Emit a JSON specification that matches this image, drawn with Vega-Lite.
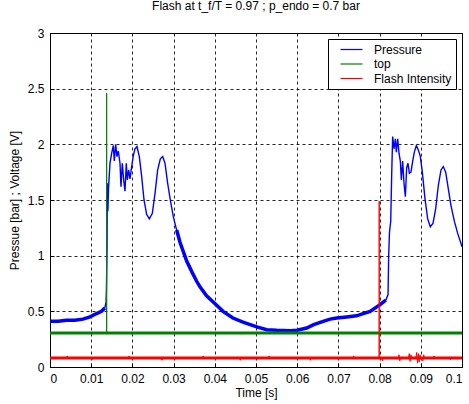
{
  "$schema": "https://vega.github.io/schema/vega-lite/v6.json",
  "width": 412,
  "height": 334,
  "autosize": {"type": "none"},
  "padding": {"left": 50, "top": 33, "right": 7, "bottom": 37},
  "background": "white",
  "title": {"text": "Flash at t_f/T = 0.97 ; p_endo = 0.7 bar", "font": "Liberation Sans", "fontSize": 12, "fontWeight": "normal", "color": "#000", "offset": 14, "anchor": "middle"},
  "config": {
    "view": {"stroke": "#000", "strokeWidth": 1},
    "axis": {
      "domainColor": "#000", "domainWidth": 1,
      "tickColor": "#000", "tickSize": -4, "labelPadding": 10,
      "grid": true, "gridColor": "#000", "gridDash": [3, 3], "gridWidth": 1, "gridOpacity": 0.85,
      "labelFont": "Liberation Sans", "labelFontSize": 12, "labelColor": "#000",
      "titleFont": "Liberation Sans", "titleFontSize": 12, "titleFontWeight": "normal", "titleColor": "#000"
    },
    "legend": {
      "orient": "top-right", "offset": 6, "strokeColor": "#000", "fillColor": "#fff", "padding": 4,
      "labelFont": "Liberation Sans", "labelFontSize": 12, "labelColor": "#000",
      "symbolType": "M-2,0H2", "symbolSize": 121, "symbolStrokeWidth": 1.2, "symbolOffset": 13,
      "rowPadding": 1.5, "labelOffset": 16, "cornerRadius": 0
    }
  },
  "data": {"values": [
    {"series": "Pressure", "t": 0.000, "v": 0.41},
    {"series": "Pressure", "t": 0.002, "v": 0.41},
    {"series": "Pressure", "t": 0.004, "v": 0.42},
    {"series": "Pressure", "t": 0.006, "v": 0.42},
    {"series": "Pressure", "t": 0.008, "v": 0.43},
    {"series": "Pressure", "t": 0.0097, "v": 0.45},
    {"series": "Pressure", "t": 0.0113, "v": 0.48},
    {"series": "Pressure", "t": 0.0125, "v": 0.50},
    {"series": "Pressure", "t": 0.0133, "v": 0.53},
    {"series": "Pressure", "t": 0.0136, "v": 0.58},
    {"series": "Pressure", "t": 0.0137, "v": 0.70},
    {"series": "Pressure", "t": 0.01385, "v": 1.10},
    {"series": "Pressure", "t": 0.0139, "v": 1.65},
    {"series": "Pressure", "t": 0.01405, "v": 1.40},
    {"series": "Pressure", "t": 0.0142, "v": 1.60},
    {"series": "Pressure", "t": 0.01456, "v": 1.83},
    {"series": "Pressure", "t": 0.01497, "v": 1.92},
    {"series": "Pressure", "t": 0.01537, "v": 1.99},
    {"series": "Pressure", "t": 0.01561, "v": 1.85},
    {"series": "Pressure", "t": 0.01594, "v": 2.00},
    {"series": "Pressure", "t": 0.01626, "v": 1.89},
    {"series": "Pressure", "t": 0.01658, "v": 1.94},
    {"series": "Pressure", "t": 0.01699, "v": 1.83},
    {"series": "Pressure", "t": 0.01723, "v": 1.62},
    {"series": "Pressure", "t": 0.01755, "v": 1.83},
    {"series": "Pressure", "t": 0.01788, "v": 1.68},
    {"series": "Pressure", "t": 0.0182, "v": 1.58},
    {"series": "Pressure", "t": 0.01852, "v": 1.83},
    {"series": "Pressure", "t": 0.01877, "v": 1.68},
    {"series": "Pressure", "t": 0.0191, "v": 1.77},
    {"series": "Pressure", "t": 0.01942, "v": 1.69},
    {"series": "Pressure", "t": 0.01982, "v": 1.80},
    {"series": "Pressure", "t": 0.02023, "v": 1.90},
    {"series": "Pressure", "t": 0.02063, "v": 1.96},
    {"series": "Pressure", "t": 0.02112, "v": 1.98},
    {"series": "Pressure", "t": 0.02168, "v": 1.89},
    {"series": "Pressure", "t": 0.02225, "v": 1.71},
    {"series": "Pressure", "t": 0.02282, "v": 1.50},
    {"series": "Pressure", "t": 0.02346, "v": 1.37},
    {"series": "Pressure", "t": 0.02411, "v": 1.33},
    {"series": "Pressure", "t": 0.02484, "v": 1.38},
    {"series": "Pressure", "t": 0.02549, "v": 1.56},
    {"series": "Pressure", "t": 0.02613, "v": 1.77},
    {"series": "Pressure", "t": 0.02678, "v": 1.87},
    {"series": "Pressure", "t": 0.02735, "v": 1.89},
    {"series": "Pressure", "t": 0.02791, "v": 1.83},
    {"series": "Pressure", "t": 0.02856, "v": 1.65},
    {"series": "Pressure", "t": 0.0292, "v": 1.50},
    {"series": "Pressure", "t": 0.02993, "v": 1.35},
    {"series": "Pressure", "t": 0.03074, "v": 1.23},
    {"series": "Pressure", "t": 0.03155, "v": 1.12},
    {"series": "Pressure", "t": 0.0332, "v": 0.95},
    {"series": "Pressure", "t": 0.0345, "v": 0.85},
    {"series": "Pressure", "t": 0.0356, "v": 0.77},
    {"series": "Pressure", "t": 0.0364, "v": 0.72},
    {"series": "Pressure", "t": 0.038, "v": 0.64},
    {"series": "Pressure", "t": 0.040, "v": 0.57},
    {"series": "Pressure", "t": 0.042, "v": 0.50},
    {"series": "Pressure", "t": 0.0444, "v": 0.44},
    {"series": "Pressure", "t": 0.047, "v": 0.40},
    {"series": "Pressure", "t": 0.0502, "v": 0.36},
    {"series": "Pressure", "t": 0.0526, "v": 0.335},
    {"series": "Pressure", "t": 0.055, "v": 0.33},
    {"series": "Pressure", "t": 0.0583, "v": 0.326},
    {"series": "Pressure", "t": 0.060, "v": 0.33},
    {"series": "Pressure", "t": 0.0623, "v": 0.35},
    {"series": "Pressure", "t": 0.064, "v": 0.38},
    {"series": "Pressure", "t": 0.0663, "v": 0.41},
    {"series": "Pressure", "t": 0.068, "v": 0.43},
    {"series": "Pressure", "t": 0.0696, "v": 0.44},
    {"series": "Pressure", "t": 0.072, "v": 0.45},
    {"series": "Pressure", "t": 0.0744, "v": 0.46},
    {"series": "Pressure", "t": 0.076, "v": 0.48},
    {"series": "Pressure", "t": 0.0777, "v": 0.50},
    {"series": "Pressure", "t": 0.0801, "v": 0.56},
    {"series": "Pressure", "t": 0.0815, "v": 0.60},
    {"series": "Pressure", "t": 0.08205, "v": 0.65},
    {"series": "Pressure", "t": 0.0822, "v": 1.00},
    {"series": "Pressure", "t": 0.0824, "v": 1.21},
    {"series": "Pressure", "t": 0.0827, "v": 1.31},
    {"series": "Pressure", "t": 0.08293, "v": 1.72},
    {"series": "Pressure", "t": 0.08317, "v": 2.07},
    {"series": "Pressure", "t": 0.0835, "v": 1.96},
    {"series": "Pressure", "t": 0.08382, "v": 2.05},
    {"series": "Pressure", "t": 0.08406, "v": 1.93},
    {"series": "Pressure", "t": 0.08439, "v": 2.05},
    {"series": "Pressure", "t": 0.08471, "v": 1.92},
    {"series": "Pressure", "t": 0.08503, "v": 1.85},
    {"series": "Pressure", "t": 0.08528, "v": 1.68},
    {"series": "Pressure", "t": 0.0856, "v": 1.85},
    {"series": "Pressure", "t": 0.08592, "v": 1.65},
    {"series": "Pressure", "t": 0.08625, "v": 1.53},
    {"series": "Pressure", "t": 0.08657, "v": 1.79},
    {"series": "Pressure", "t": 0.08689, "v": 1.83},
    {"series": "Pressure", "t": 0.08722, "v": 1.74},
    {"series": "Pressure", "t": 0.08762, "v": 1.75},
    {"series": "Pressure", "t": 0.08803, "v": 1.85},
    {"series": "Pressure", "t": 0.08843, "v": 1.93},
    {"series": "Pressure", "t": 0.08892, "v": 1.99},
    {"series": "Pressure", "t": 0.0894, "v": 1.95},
    {"series": "Pressure", "t": 0.08989, "v": 1.89},
    {"series": "Pressure", "t": 0.09037, "v": 1.75},
    {"series": "Pressure", "t": 0.09102, "v": 1.51},
    {"series": "Pressure", "t": 0.09167, "v": 1.33},
    {"series": "Pressure", "t": 0.09231, "v": 1.26},
    {"series": "Pressure", "t": 0.09296, "v": 1.29},
    {"series": "Pressure", "t": 0.09361, "v": 1.42},
    {"series": "Pressure", "t": 0.09425, "v": 1.63},
    {"series": "Pressure", "t": 0.0949, "v": 1.77},
    {"series": "Pressure", "t": 0.09547, "v": 1.80},
    {"series": "Pressure", "t": 0.09604, "v": 1.75},
    {"series": "Pressure", "t": 0.09668, "v": 1.60},
    {"series": "Pressure", "t": 0.09733, "v": 1.45},
    {"series": "Pressure", "t": 0.09814, "v": 1.31},
    {"series": "Pressure", "t": 0.09895, "v": 1.20},
    {"series": "Pressure", "t": 0.09976, "v": 1.11},
    {"series": "Pressure", "t": 0.1, "v": 1.08},
    {"series": "top", "t": 0.0, "v": 0.305},
    {"series": "top", "t": 0.01373, "v": 0.305},
    {"series": "top", "t": 0.01375, "v": 2.46},
    {"series": "top", "t": 0.01377, "v": 0.305},
    {"series": "top", "t": 0.1, "v": 0.305},
    {"series": "Flash Intensity", "t": 0.0, "v": 0.08},
    {"series": "Flash Intensity", "t": 0.004, "v": 0.08},
    {"series": "Flash Intensity", "t": 0.0042, "v": 0.10},
    {"series": "Flash Intensity", "t": 0.0044, "v": 0.08},
    {"series": "Flash Intensity", "t": 0.010, "v": 0.08},
    {"series": "Flash Intensity", "t": 0.0102, "v": 0.065},
    {"series": "Flash Intensity", "t": 0.0104, "v": 0.08},
    {"series": "Flash Intensity", "t": 0.019, "v": 0.08},
    {"series": "Flash Intensity", "t": 0.0192, "v": 0.10},
    {"series": "Flash Intensity", "t": 0.0194, "v": 0.08},
    {"series": "Flash Intensity", "t": 0.027, "v": 0.08},
    {"series": "Flash Intensity", "t": 0.0272, "v": 0.06},
    {"series": "Flash Intensity", "t": 0.0274, "v": 0.08},
    {"series": "Flash Intensity", "t": 0.037, "v": 0.08},
    {"series": "Flash Intensity", "t": 0.0372, "v": 0.10},
    {"series": "Flash Intensity", "t": 0.0374, "v": 0.08},
    {"series": "Flash Intensity", "t": 0.046, "v": 0.08},
    {"series": "Flash Intensity", "t": 0.0462, "v": 0.06},
    {"series": "Flash Intensity", "t": 0.0464, "v": 0.08},
    {"series": "Flash Intensity", "t": 0.053, "v": 0.08},
    {"series": "Flash Intensity", "t": 0.0532, "v": 0.10},
    {"series": "Flash Intensity", "t": 0.0534, "v": 0.08},
    {"series": "Flash Intensity", "t": 0.063, "v": 0.08},
    {"series": "Flash Intensity", "t": 0.0632, "v": 0.06},
    {"series": "Flash Intensity", "t": 0.0634, "v": 0.08},
    {"series": "Flash Intensity", "t": 0.0735, "v": 0.08},
    {"series": "Flash Intensity", "t": 0.0737, "v": 0.10},
    {"series": "Flash Intensity", "t": 0.0739, "v": 0.08},
    {"series": "Flash Intensity", "t": 0.07988, "v": 0.08},
    {"series": "Flash Intensity", "t": 0.0799, "v": 1.49},
    {"series": "Flash Intensity", "t": 0.07992, "v": 0.08},
    {"series": "Flash Intensity", "t": 0.0805, "v": 0.08},
    {"series": "Flash Intensity", "t": 0.0807, "v": 0.055},
    {"series": "Flash Intensity", "t": 0.0809, "v": 0.08},
    {"series": "Flash Intensity", "t": 0.0845, "v": 0.08},
    {"series": "Flash Intensity", "t": 0.0847, "v": 0.11},
    {"series": "Flash Intensity", "t": 0.0849, "v": 0.055},
    {"series": "Flash Intensity", "t": 0.0851, "v": 0.08},
    {"series": "Flash Intensity", "t": 0.087, "v": 0.08},
    {"series": "Flash Intensity", "t": 0.0872, "v": 0.12},
    {"series": "Flash Intensity", "t": 0.0874, "v": 0.05},
    {"series": "Flash Intensity", "t": 0.0876, "v": 0.11},
    {"series": "Flash Intensity", "t": 0.0878, "v": 0.08},
    {"series": "Flash Intensity", "t": 0.0888, "v": 0.08},
    {"series": "Flash Intensity", "t": 0.089, "v": 0.13},
    {"series": "Flash Intensity", "t": 0.0892, "v": 0.035},
    {"series": "Flash Intensity", "t": 0.0894, "v": 0.12},
    {"series": "Flash Intensity", "t": 0.0896, "v": 0.045},
    {"series": "Flash Intensity", "t": 0.0898, "v": 0.11},
    {"series": "Flash Intensity", "t": 0.090, "v": 0.08},
    {"series": "Flash Intensity", "t": 0.0905, "v": 0.055},
    {"series": "Flash Intensity", "t": 0.0907, "v": 0.11},
    {"series": "Flash Intensity", "t": 0.0909, "v": 0.08},
    {"series": "Flash Intensity", "t": 0.093, "v": 0.08},
    {"series": "Flash Intensity", "t": 0.0932, "v": 0.10},
    {"series": "Flash Intensity", "t": 0.0934, "v": 0.08},
    {"series": "Flash Intensity", "t": 0.097, "v": 0.08},
    {"series": "Flash Intensity", "t": 0.0972, "v": 0.065},
    {"series": "Flash Intensity", "t": 0.0974, "v": 0.08},
    {"series": "Flash Intensity", "t": 0.1, "v": 0.08}
  ]},
  "encoding": {
    "x": {"field": "t", "type": "quantitative", "scale": {"domain": [0, 0.1], "nice": false, "zero": false},
          "axis": {"values": [0, 0.01, 0.02, 0.03, 0.04, 0.05, 0.06, 0.07, 0.08, 0.09, 0.1], "format": "~g", "title": "Time [s]", "titlePadding": 3}},
    "y": {"field": "v", "type": "quantitative", "scale": {"domain": [0, 3], "nice": false},
          "axis": {"values": [0, 0.5, 1, 1.5, 2, 2.5, 3], "format": "~g", "title": "Pressue [bar] ; Voltage [V]", "titlePadding": 6}},
    "color": {"field": "series", "type": "nominal", "title": null,
              "scale": {"domain": ["Pressure", "top", "Flash Intensity"], "range": ["#0000ff", "#008000", "#ff0000"]}},
    "order": {"field": "t", "type": "quantitative"}
  },
  "layer": [
    {"transform": [{"filter": "datum.series == 'Pressure'"}], "mark": {"type": "line", "strokeWidth": 1.4, "interpolate": "linear"}},
    {"transform": [{"filter": "datum.series == 'Pressure' && datum.t <= 0.0134"}], "mark": {"type": "line", "strokeWidth": 3.5}},
    {"transform": [{"filter": "datum.series == 'Pressure' && datum.t >= 0.0303 && datum.t <= 0.0816"}], "mark": {"type": "line", "strokeWidth": 3.5}},
    {"transform": [{"filter": "datum.series == 'top'"}], "mark": {"type": "line", "strokeWidth": 1}},
    {"transform": [{"filter": "datum.series == 'top' && datum.v < 1"}], "mark": {"type": "line", "strokeWidth": 3}},
    {"transform": [{"filter": "datum.series == 'Flash Intensity'"}], "mark": {"type": "line", "strokeWidth": 1}},
    {"transform": [{"filter": "datum.series == 'Flash Intensity' && datum.v > 0.075 && datum.v < 0.085"}], "mark": {"type": "line", "strokeWidth": 3}}
  ]
}
